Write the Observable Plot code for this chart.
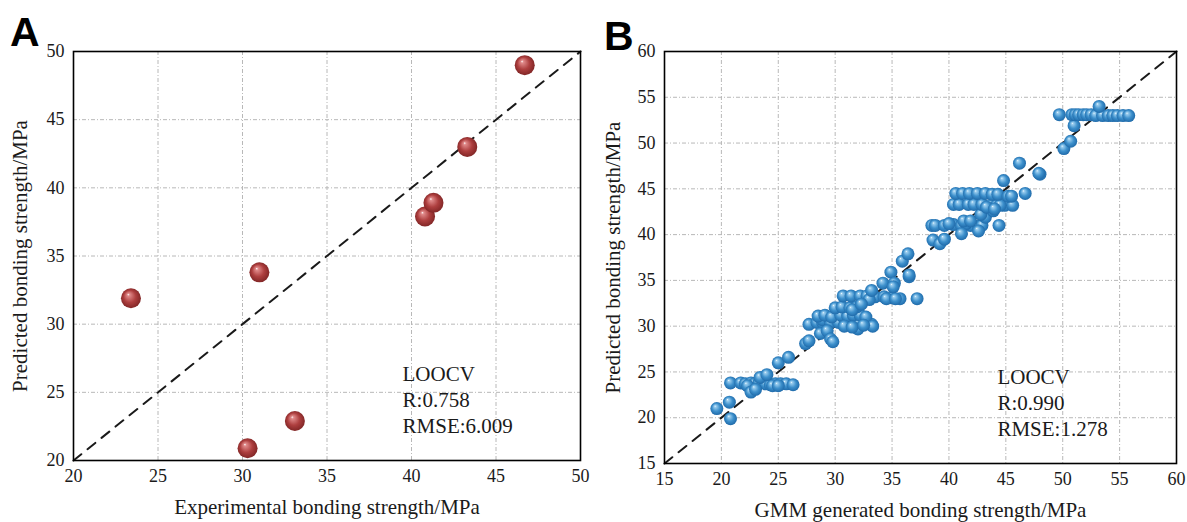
<!DOCTYPE html>
<html>
<head>
<meta charset="utf-8">
<script src="https://cdn.jsdelivr.net/npm/d3@7"></script>
<script src="https://cdn.jsdelivr.net/npm/@observablehq/plot@0.6"></script>
<style>
  html, body { margin: 0; padding: 0; background: #fff; }
  #wrap { position: relative; width: 1187px; height: 522px; overflow: hidden; background: #fff; }
  .panel { position: absolute; top: 0; }
  .letter { position: absolute; font-family: "Liberation Sans", Arial, sans-serif; font-weight: bold; font-size: 41px; line-height: 1; color: #000; }
</style>
</head>
<body>
<div id="wrap">
  <div id="pa" class="panel" style="left:0px"></div>
  <div id="pb" class="panel" style="left:600px"></div>
  <div class="letter" style="left:10px; top:12px">A</div>
  <div class="letter" style="left:604px; top:16px">B</div>
</div>
<script>
// ---------- Data ----------
const ticksA = [20, 25, 30, 35, 40, 45, 50];
const ticksB = [15, 20, 25, 30, 35, 40, 45, 50, 55, 60];

// Panel A: experimental vs predicted (LOOCV)
const expA  = [23.4, 31.0, 30.3, 33.1, 40.8, 41.3, 43.3, 46.7];
const predA = [31.9, 33.8, 20.9, 22.9, 37.9, 38.9, 43.0, 49.0];

// Panel B: GMM generated vs predicted (LOOCV)
const gmmB = [
  19.6, 20.7, 20.8,
  20.8, 21.7, 22.1, 22.6, 22.9, 23.3, 23.9, 24.3, 24.75, 25.2, 25.7, 26.3, 22.3, 24.5, 25.0,
  23.4, 24.0, 22.6, 23.0, 25.0, 25.9,
  27.4, 27.7, 27.7, 28.4, 28.9, 28.9, 29.6, 30.3, 30.9, 31.5, 32.1, 32.7, 33.2,
  28.5, 29.1, 29.7, 30.5, 31.1, 31.6, 32.2, 32.7,
  30.0, 30.6, 31.3, 31.9, 31.5,
  28.7, 29.3, 29.6, 29.8, 32.0, 33.3, 30.8, 31.5, 32.5,
  30.7, 31.4, 32.2, 32.8, 33.5, 34.3, 35.0, 35.7, 33.0, 34.5, 35.3,
  33.2, 34.2, 34.9, 35.2, 35.1, 35.9, 36.4, 36.5, 36.5, 37.2, 32.3,
  38.5, 38.8, 39.6, 40.4, 41.1, 41.9, 42.6, 42.9, 44.4, 40.0, 41.5,
  38.6, 39.2, 39.6, 41.1, 42.6, 41.3, 41.9, 43.2, 43.9, 42.8,
  40.4, 40.9, 41.7, 42.2, 42.9, 43.7, 44.2, 44.9, 45.6, 44.5, 43.3, 44.0,
  40.6, 41.2, 41.8, 42.5, 43.2, 43.8, 44.3, 45.2, 45.5, 46.7,
  44.8, 46.2, 48.0, 47.9,
  50.1, 50.7, 51.0,
  49.7, 50.8, 51.1, 51.4, 51.8, 52.1, 52.5, 52.9, 53.5, 54.0, 54.4, 54.8, 55.3, 55.8,
  53.2
];
const predB = [
  21.0, 21.7, 19.9,
  23.8, 23.8, 23.7, 23.8, 23.7, 23.8, 23.7, 23.6, 23.7, 23.7, 23.7, 23.6, 23.5, 23.5, 23.5,
  24.4, 24.7, 22.8, 23.1, 26.0, 26.6,
  28.1, 28.4, 30.2, 30.4, 30.4, 30.7, 30.4, 30.4, 30.4, 30.4, 30.4, 30.4, 30.2,
  31.1, 31.2, 31.0, 31.2, 31.1, 31.2, 31.2, 31.0,
  32.0, 32.1, 32.0, 32.1, 31.8,
  29.2, 29.5, 28.6, 28.3, 29.7, 30.0, 30.0, 29.9, 30.1,
  33.3, 33.3, 33.3, 33.3, 33.2, 33.2, 33.1, 33.0, 32.9, 33.0, 33.0,
  33.9, 34.7, 35.9, 34.7, 34.3, 37.1, 37.9, 35.4, 35.6, 33.0, 32.4,
  41.0, 41.0, 41.0, 41.1, 41.0, 41.0, 40.9, 41.0, 41.0, 41.2, 41.2,
  39.4, 39.0, 39.5, 40.1, 40.4, 41.5, 41.5, 41.9, 42.6, 42.2,
  43.3, 43.3, 43.3, 43.3, 43.3, 43.2, 43.2, 43.2, 43.2, 43.2, 43.0, 42.8,
  44.5, 44.5, 44.5, 44.5, 44.5, 44.4, 44.4, 44.2, 44.2, 44.5,
  45.9, 47.8, 46.6, 46.7,
  49.4, 50.2, 51.9,
  53.1, 53.1, 53.1, 53.1, 53.1, 53.1, 53.1, 53.0, 53.0, 53.0, 53.0, 53.0, 53.0, 53.0,
  54.0
];

const annotA = ["LOOCV", "R:0.758", "RMSE:6.009"];
const annotB = ["LOOCV", "R:0.990", "RMSE:1.278"];
const labelXA = "Experimental bonding strength/MPa";
const labelXB = "GMM generated bonding strength/MPa";
const labelY = "Predicted bonding strength/MPa";

// ---------- Drawing ----------
const serif = "'Liberation Serif', 'Times New Roman', Times, serif";
const gridStyle = {stroke: "#b8b8b8", strokeWidth: 1, strokeDasharray: "4,2,1,2"};

function addGradient(svg, id, light, mid, dark) {
  const ns = "http://www.w3.org/2000/svg";
  const defs = document.createElementNS(ns, "defs");
  const g = document.createElementNS(ns, "radialGradient");
  g.setAttribute("id", id);
  g.setAttribute("cx", "0.5"); g.setAttribute("cy", "0.5"); g.setAttribute("r", "0.55");
  g.setAttribute("fx", "0.36"); g.setAttribute("fy", "0.3");
  [[0, "#ffffff"], [0.12, light], [0.55, mid], [1, dark]].forEach(([o, c]) => {
    const s = document.createElementNS(ns, "stop");
    s.setAttribute("offset", o); s.setAttribute("stop-color", c);
    g.appendChild(s);
  });
  defs.appendChild(g);
  svg.insertBefore(defs, svg.firstChild);
}

function panel({width, ml, mr, mt, mb, ticks, xs, ys, fill, r, annot, annotX, annotY, labelX, yLabelDx, xLabelDy}) {
  const domain = [ticks[0], ticks[ticks.length - 1]];
  const data = xs.map((x, i) => ({x, y: ys[i]}));
  const diag = [{x: domain[0], y: domain[0]}, {x: domain[1], y: domain[1]}];
  return Plot.plot({
    width, height: 522,
    marginLeft: ml, marginRight: mr, marginTop: mt, marginBottom: mb,
    style: {fontFamily: serif, fontSize: "18px", color: "#1a1a1a", background: "transparent", overflow: "visible"},
    x: {domain, ticks, tickSize: 0, tickPadding: 9, label: null},
    y: {domain, ticks, tickSize: 0, tickPadding: 9, label: null},
    marks: [
      Plot.ruleX(ticks.slice(1, -1), gridStyle),
      Plot.ruleY(ticks.slice(1, -1), gridStyle),
      Plot.line(diag, {x: "x", y: "y", stroke: "#1a1a1a", strokeWidth: 2, strokeDasharray: "10,8"}),
      Plot.dot(data, {x: "x", y: "y", r, fill, stroke: "none"}),
      Plot.text([annot.join("\n")], {x: () => annotX, y: () => annotY, text: d => d,
        textAnchor: "start", lineAnchor: "top", lineHeight: 1.24, fontSize: 21, fill: "#1a1a1a"}),
      Plot.text([labelX], {frameAnchor: "bottom", dy: xLabelDy, text: d => d,
        textAnchor: "middle", lineAnchor: "middle", fontSize: 21, fill: "#1a1a1a"}),
      Plot.text([labelY], {frameAnchor: "left", dx: yLabelDx, rotate: -90, text: d => d,
        textAnchor: "middle", lineAnchor: "middle", fontSize: 21, fill: "#1a1a1a"}),
      Plot.frame({stroke: "#000", strokeWidth: 1.6})
    ]
  });
}

const svgA = panel({
  width: 600, ml: 73, mr: 20, mt: 51, mb: 62,
  ticks: ticksA, xs: expA, ys: predA, fill: "url(#sphereRed)", r: 10,
  annot: annotA, annotX: 39.47, annotY: 27.2, labelX: labelXA, yLabelDx: -53, xLabelDy: 47
});
addGradient(svgA, "sphereRed", "#e08a8a", "#ae3f3f", "#7a2222");
document.getElementById("pa").appendChild(svgA);

const svgB = panel({
  width: 587, ml: 64, mr: 11, mt: 51, mb: 59,
  ticks: ticksB, xs: gmmB, ys: predB, fill: "url(#sphereBlue)", r: 6.5,
  annot: annotB, annotX: 44.26, annotY: 25.7, labelX: labelXB, yLabelDx: -51.5, xLabelDy: 47
});
addGradient(svgB, "sphereBlue", "#9fd0f0", "#3d90cc", "#1a64a4");
document.getElementById("pb").appendChild(svgB);
</script>
</body>
</html>
